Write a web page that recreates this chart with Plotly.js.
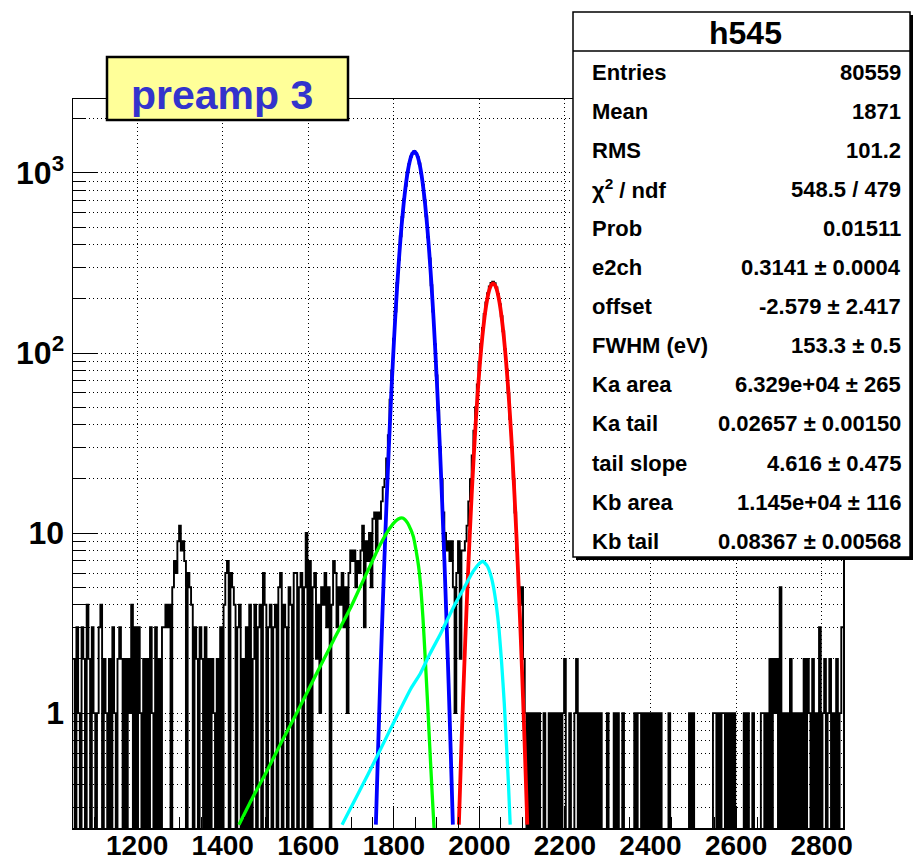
<!DOCTYPE html>
<html>
<head>
<meta charset="utf-8">
<script src="https://cdn.plot.ly/plotly-3.0.1.min.js"></script>
<style>html,body{margin:0;padding:0;background:#fff}#chart{width:913px;height:862px}</style>
</head>
<body>
<div id="chart"></div>
<script>
// ---- histogram h545 (counts, 4-channel bins from 1050) ----
const binStart = 1050;
const binWidth = 4;
const histLow = [
  2,0,3,1,0,3,2,0,4,2, 0,3,1,0,1,3,4,0,2,1, 0,2,0,3,1,0,2,3,2,0,
  2,0,2,1,4,0,3,0,3,1, 0,2,0,2,0,3,1,0,3,0, 2,0,3,3,4,3,4,0,5,7,
  6,9,11,8,9,7,0,6,5,4, 0,3,2,0,3,2,0,3,0,2, 0,2,1,0,2,0,3,0,4,6,
  7,0,6,5,4,0,3,4,0,2, 0,3,0,4,0
];
const histMid = [
  2,
  4,0,3,4,0,6,4,0,3,4,
  0,3,4,0,5,6,0,4,3,0,5,4,0,6,
  6,0,5,6,0,5,10,0,7,
  0,5,6,2,4,1,5,4,6,3,5,0,
  4,7,6,3,5,4,6,3,5,1,6,8,
  7,8,5,7,6,8,11,3,9,7,
  10,5,12,13,8,13,12,
  15,18,20,26,35,
  55,80,120,170,245,330,445,570,715,850,1010,1120,1230,1290,1320,1280,1225,1130,995,860,
  705,575,440,335,238,170,112,75,48,30,20,13,10,8,9,
  7,9,5,1,6,9,2,8,
  8,9,11,15,20,27,37,50,67,88,112,138,165,191,215,234,245,249,244,231,212,187,160,132,105,
  81,60,43,30,20,13,8,5,4,5,2,1
];
const histHigh = [
  0,1,0,1,0,1,0,1,0,
  0,1,0,0,1,0,1,0,
  1,0,1,0,1,
  2,
  0,0,1,0,0,1,
  2,
  0,1,0,1,0,1,0,1,
  0,1,0,1,0,1,0,0,0,1,0,0,0,1,0,1,0,0,1,0,0,0,0,0,0,1,0,1,
  1,0,1,0,1,
  0,1,0,1,
  0,1,0,1,0,0,0,0,1,0,
  0,0,0,0,0,0,0,0,0,0,
  1,0,1,0,
  0,0,0,0,0,0,0,0,0,0,1,
  1,0,1,0,1,1,0,1,0,1,0,1,
  0,0,0,0,0,
  1,0,1,0,0,1,0,
  0,0,0,1,
  1,0,1,0,2,0,2,
  1,2,0,
  5,
  0,1,0,1,0,2,0,1,
  0,1,0,1,0,2,0,2,1,0,2,0,1,0,3,0,1,2,0,1,2,0,1,0,2,0,1,3
];

// ---- fit components ----
const blueX = [1758,1763,1768,1773,1778,1783,1788,1793,1798,1803,1808,1813,1818,1823,1828,1833,1838,1843,1848,1853,1858,1863,1868,1873,1878,1883,1888,1893,1898,1903,1908,1913,1918,1923,1928,1933,1938];
const blueY = [0.24,0.61,1.47,3.35,7.22,14.8,28.7,52.9,92,153,240,358,505,676,859,1034,1181,1279,1313,1279,1181,1034,859,676,505,358,240,153,92,52.9,28.7,14.8,7.22,3.35,1.47,0.61,0.24];
const redX = [1952,1957,1962,1967,1972,1977,1982,1987,1992,1997,2002,2007,2012,2017,2022,2027,2032,2037,2042,2047,2052,2057,2062,2067,2072,2077,2082,2087,2092,2097,2102,2107,2112];
const redY = [0.24,0.556,1.22,2.53,4.97,9.25,16.3,27.3,43.2,64.9,92.2,124,158,191,219,237,244,237,219,191,158,124,92.2,64.9,43.2,27.3,16.3,9.25,4.97,2.53,1.22,0.556,0.24];
const greenX = [1438,1470,1500,1540,1573,1620,1659,1700,1721,1750,1768,1790,1805,1815,1822,1832,1840,1846,1852,1858,1863,1868,1873,1878,1884,1889,1894];
const greenY = [0.24,0.34,0.46,0.71,1.0,1.67,2.54,3.9,5.0,7.0,8.6,10.6,11.7,12.1,12.1,11.4,10.4,9.5,8.0,6.5,5.0,3.4,2.1,1.25,0.65,0.38,0.23];
const cyanX = [1679,1720,1760,1800,1840,1862,1885,1909,1940,1965,1985,1998,2008,2018,2026,2033,2040,2046,2052,2058,2064,2068,2072];
const cyanY = [0.24,0.37,0.57,0.89,1.37,1.66,2.15,2.75,3.9,5.0,6.1,6.7,6.95,6.6,5.9,5.0,3.9,2.9,1.9,1.15,0.62,0.4,0.24];

// ---- axis ticks ----
const xTickVals = [1200,1400,1600,1800,2000,2200,2400,2600,2800];
const xTickText = ['1200','1400','1600','1800','2000','2200','2400','2600','2800'];
const yTickVals = [1,10,100,1000];
const yTickText = ['1','10','10<sup>2</sup>','10<sup>3</sup>'];
const yMinorVals = [0.3,0.4,0.5,0.6,0.7,0.8,0.9,2,3,4,5,6,7,8,9,20,30,40,50,60,70,80,90,200,300,400,500,600,700,800,900,2000];

// ---- stats box ----
const statTitle = 'h545';
const statLabels = ['Entries','Mean','RMS','\u03c7<sup>2</sup> / ndf','Prob','e2ch','offset','FWHM (eV)','Ka area','Ka tail','tail slope','Kb area','Kb tail'];
const statValues = ['80559','1871','101.2','548.5 / 479','0.01511','0.3141 \u00b1 0.0004','-2.579 \u00b1 2.417','153.3 \u00b1 0.5','6.329e+04 \u00b1 265','0.02657 \u00b1 0.00150','4.616 \u00b1 0.475','1.145e+04 \u00b1 116','0.08367 \u00b1 0.00568'];
const labelText = 'preamp 3';

// ---- build ----
const counts = histLow.concat(histMid, histHigh);
const hx = counts.map((_, i) => binStart + binWidth * i);
hx.push(binStart + binWidth * counts.length);
const hy = counts.map(v => (v > 0 ? v : 0.01));
hy.push(hy[hy.length - 1]);

const L = 73, R = 843, T = 99, B = 828;
const px = p => (p - L) / (R - L);
const py = p => (B - p) / (B - T);
const FONT = 'Liberation Sans, Arial, sans-serif';

const traces = [
  {x: hx, y: hy, type: 'scatter', mode: 'lines', line: {color: '#000', width: 1.9, shape: 'hv', simplify: false}, hoverinfo: 'skip'},
  {x: blueX, y: blueY, type: 'scatter', mode: 'lines', line: {color: '#0000ff', width: 3.8, shape: 'spline', smoothing: 0.5}},
  {x: redX, y: redY, type: 'scatter', mode: 'lines', line: {color: '#ff0000', width: 3.8, shape: 'spline', smoothing: 0.5}},
  {x: greenX, y: greenY, type: 'scatter', mode: 'lines', line: {color: '#00ff00', width: 3.3, shape: 'spline', smoothing: 0.5}},
  {x: cyanX, y: cyanY, type: 'scatter', mode: 'lines', line: {color: '#00ffff', width: 3.3, shape: 'spline', smoothing: 0.5}}
];

const shapes = [
  {type: 'rect', xref: 'paper', yref: 'paper', x0: px(576), x1: px(914), y0: py(560), y1: py(15), fillcolor: '#000', line: {width: 0}},
  {type: 'rect', xref: 'paper', yref: 'paper', x0: px(573), x1: px(910), y0: py(557), y1: py(12), fillcolor: '#fff', line: {color: '#000', width: 1.5}},
  {type: 'line', xref: 'paper', yref: 'paper', x0: px(573), x1: px(910), y0: py(51), y1: py(51), line: {color: '#000', width: 1.5}},
  {type: 'rect', xref: 'paper', yref: 'paper', x0: px(107), x1: px(348), y0: py(120), y1: py(57), fillcolor: '#ffff99', line: {color: '#000', width: 2.5}}
];

const annotations = [];
annotations.push({xref: 'paper', yref: 'paper', x: px(745), y: py(33), text: statTitle, showarrow: false, xanchor: 'center', yanchor: 'middle', font: {family: FONT, size: 32, color: '#000', weight: 'bold'}});
statLabels.forEach((t, i) => {
  const yy = 72 + i * 39.1;
  annotations.push({xref: 'paper', yref: 'paper', x: px(590), y: py(yy), text: t, showarrow: false, xanchor: 'left', yanchor: 'middle', font: {family: FONT, size: 22, color: '#000', weight: 'bold'}});
  annotations.push({xref: 'paper', yref: 'paper', x: px(903), y: py(yy), text: statValues[i], showarrow: false, xanchor: 'right', yanchor: 'middle', font: {family: FONT, size: 22, color: '#000', weight: 'bold'}});
});
annotations.push({xref: 'paper', yref: 'paper', x: px(222), y: py(95), text: labelText, showarrow: false, xanchor: 'center', yanchor: 'middle', font: {family: FONT, size: 41, color: '#3333cc', weight: 'bold'}});

const layout = {
  width: 913, height: 862,
  margin: {l: L, r: 913 - R, t: T, b: 862 - B, pad: 0},
  paper_bgcolor: '#fff', plot_bgcolor: '#fff',
  showlegend: false,
  xaxis: {
    range: [1050, 2850], tickmode: 'array', tickvals: xTickVals, ticktext: xTickText,
    ticks: 'inside', ticklen: 22, tickwidth: 1, tickcolor: '#000',
    ticklabelstandoff: -8,
    showgrid: true, gridcolor: '#000', gridwidth: 1, griddash: '1px,3px',
    showline: true, mirror: true, linecolor: '#000', linewidth: 1.5,
    zeroline: false, automargin: false,
    tickfont: {family: FONT, size: 28, color: '#000', weight: 'bold'},
    minor: {tickmode: 'linear', tick0: 1200, dtick: 50, ticks: 'inside', ticklen: 11, tickcolor: '#000', showgrid: false}
  },
  yaxis: {
    type: 'log', range: [Math.log10(0.23), 3.411],
    tickmode: 'array', tickvals: yTickVals, ticktext: yTickText,
    ticks: 'inside', ticklen: 24, tickwidth: 1, tickcolor: '#000',
    ticklabelstandoff: 1,
    showgrid: true, gridcolor: '#000', gridwidth: 1, griddash: '1px,3px',
    showline: true, mirror: true, linecolor: '#000', linewidth: 1.5,
    zeroline: false, automargin: false,
    tickfont: {family: FONT, size: 32, color: '#000', weight: 'bold'},
    minor: {tickmode: 'array', tickvals: yMinorVals, ticks: 'inside', ticklen: 12, tickcolor: '#000', showgrid: true, gridcolor: '#000', gridwidth: 1, griddash: '1px,3px'}
  },
  shapes: shapes,
  annotations: annotations
};

Plotly.newPlot('chart', traces, layout, {staticPlot: true, displayModeBar: false});
</script>
</body>
</html>
